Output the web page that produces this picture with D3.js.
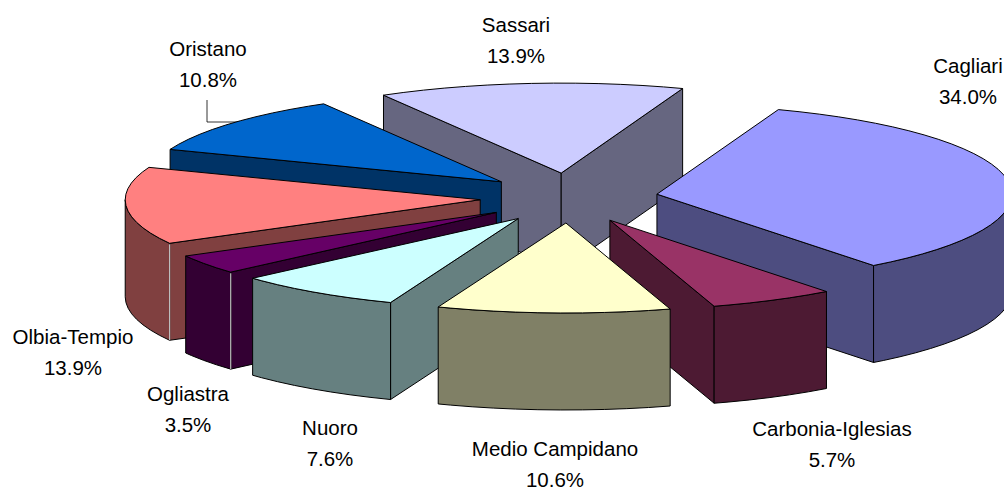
<!DOCTYPE html>
<html>
<head>
<meta charset="utf-8">
<style>
html,body{margin:0;padding:0;background:#fff;}
svg{display:block;}
text{font-family:"Liberation Sans",Arial,sans-serif;font-size:20.5px;fill:#000;text-anchor:middle;}
</style>
<script src="https://cdnjs.cloudflare.com/ajax/libs/d3/7.9.0/d3.min.js"></script>
</head>
<body>
<script>
// Data
const provinces = ["Cagliari","Carbonia-Iglesias","Medio Campidano","Nuoro","Ogliastra","Olbia-Tempio","Oristano","Sassari"];
const shares = [34.0,5.7,10.6,7.6,3.5,13.9,10.8,13.9];

// Styling and layout, separate from the data
const topColours = ["#9999ff","#993366","#ffffcc","#ccffff","#660066","#ff8080","#0066cc","#ccccff"];
const wallColours = ["#4d4d80","#4d1a33","#808066","#668080","#330033","#804040","#003366","#666680"];
const paintOrder = [7,0,6,5,4,3,1,2];
const labelCentres = [[968,66],[832,429],[555,449],[330,428],[188,394],[73,337],[208,49],[516,25]];

const W = 1004, H = 488;
const centre = {x:569, y:198};
const radiusX = 355, radiusY = 90, depth = 97;
const explodeX = 89, explodeY = 25;
const firstAngle = 20 * Math.PI / 180;
const rimStep = 3.6 * Math.PI / 180;
const lineGap = 30.5;

const svg = d3.select("body").append("svg").attr("width",W).attr("height",H).attr("viewBox",`0 0 ${W} ${H}`);

const arcs = d3.pie().sort(null).startAngle(firstAngle).endAngle(firstAngle + 2*Math.PI)(shares);

const line = d3.line().x(p => p[0]).y(p => p[1]);
const closed = pts => line(pts) + "Z";

function apexOf(a){
  const mid = (a.startAngle + a.endAngle) / 2;
  return [centre.x + explodeX*Math.sin(mid), centre.y - explodeY*Math.cos(mid)];
}
function rimPoint(apex, t){
  return [apex[0] + radiusX*Math.sin(t), apex[1] - radiusY*Math.cos(t)];
}
function rimAngles(t0, t1){
  const out = d3.range(t0, t1, rimStep);
  out.push(t1);
  return out;
}
const down = p => [p[0], p[1] + depth];
const strokeFace = (sel, d, fill) => sel.append("path").attr("d",d).attr("fill",fill)
  .attr("stroke","#000").attr("stroke-width",1).attr("stroke-linejoin","round");

// Oristano leader line, its end hidden under the slice
svg.append("path")
  .attr("d", line([[207,100],[207,122],[260,122]]))
  .attr("fill","none").attr("stroke","#000").attr("stroke-width",0.8);

paintOrder.forEach(i => {
  const a = arcs[i], apex = apexOf(a);
  const g = svg.append("g").attr("class","slice").attr("data-name",provinces[i]);
  const wall = wallColours[i];
  const rs = rimPoint(apex, a.startAngle), re = rimPoint(apex, a.endAngle);

  // cut faces that look toward the viewer
  if (Math.sin(a.startAngle) < 0)
    strokeFace(g, closed([apex, rs, down(rs), down(apex)]), wall);
  if (Math.sin(a.endAngle) > 0)
    strokeFace(g, closed([apex, re, down(re), down(apex)]), wall);

  // outer wall: only the front half of the rim, in each turn
  [[Math.PI/2, 3*Math.PI/2],[Math.PI/2 + 2*Math.PI, 3*Math.PI/2 + 2*Math.PI]].forEach(([f0,f1]) => {
    const t0 = Math.max(a.startAngle, f0), t1 = Math.min(a.endAngle, f1);
    if (t1 > t0) {
      const upper = rimAngles(t0, t1).map(t => rimPoint(apex, t));
      strokeFace(g, closed(upper.concat(upper.map(down).reverse())), wall);
    }
  });

  // pale corner edge seen on the two left-hand front slices
  if (provinces[i] === "Olbia-Tempio" || provinces[i] === "Ogliastra") {
    g.append("path").attr("d", line([[rs[0],rs[1]+1],[rs[0],rs[1]+depth]]))
      .attr("stroke","#bdbdbd").attr("stroke-width",1.2).attr("fill","none");
  }

  // top face
  const rim = rimAngles(a.startAngle, a.endAngle).map(t => rimPoint(apex, t));
  strokeFace(g, closed([apex].concat(rim)), topColours[i]);
});

// Labels
const labels = svg.append("g").selectAll("g").data(provinces).join("g");
labels.append("text").attr("x",(d,i)=>labelCentres[i][0]).attr("y",(d,i)=>labelCentres[i][1]+7).text(d=>d);
labels.append("text").attr("x",(d,i)=>labelCentres[i][0]).attr("y",(d,i)=>labelCentres[i][1]+7+lineGap).text((d,i)=>shares[i].toFixed(1)+"%");
</script>
</body>
</html>
